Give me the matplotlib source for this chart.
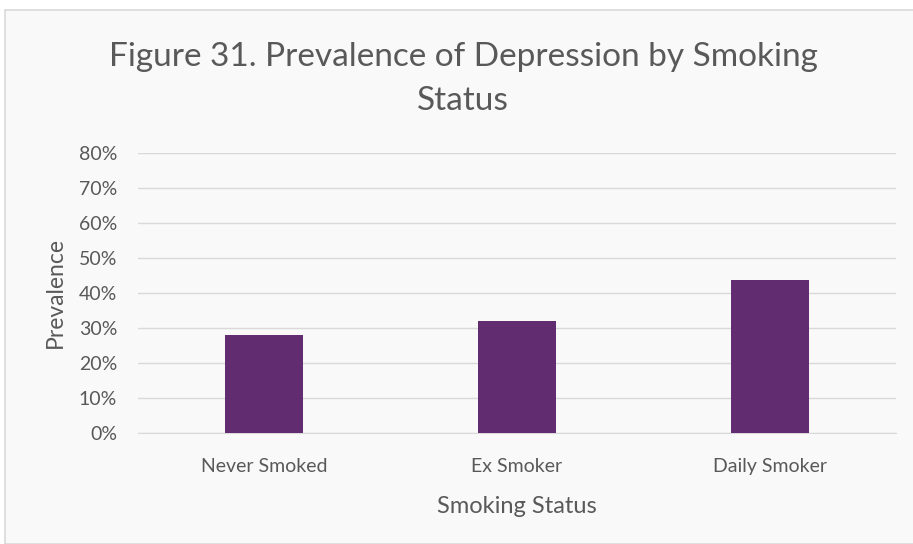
import matplotlib
matplotlib.use("Agg")
import matplotlib.pyplot as plt
from matplotlib.ticker import PercentFormatter
from matplotlib.patches import Rectangle

categories = ["Never Smoked", "Ex Smoker", "Daily Smoker"]
prevalence = [0.28, 0.321, 0.437]
yticks = [0, 0.1, 0.2, 0.3, 0.4, 0.5, 0.6, 0.7, 0.8]

plt.rcParams['font.family'] = ['Lato', 'DejaVu Sans']

W, H = 913, 544
fig = plt.figure(figsize=(W / 100, H / 100), dpi=100)
fig.patch.set_facecolor('white')

# chart area background with border
fig.add_artist(Rectangle((5 / W, 0), 1.1, 1 - 9.5 / H, transform=fig.transFigure,
                         facecolor='#f9f9f9', edgecolor='#d9d9d9', linewidth=1.2, zorder=-10))

ax = fig.add_axes([138 / W, 1 - 433 / H, (896 - 138) / W, (433 - 153) / H])
ax.set_facecolor('none')

x = range(len(categories))
ax.bar(x, prevalence, width=0.31, color='#612d70', zorder=3)
ax.set_xlim(-0.5, len(categories) - 0.5)
ax.set_ylim(0, 0.8)
ax.set_yticks(yticks)
ax.yaxis.set_major_formatter(PercentFormatter(1.0, decimals=0))
ax.set_xticks(list(x))
ax.set_xticklabels(categories)
ax.grid(axis='y', color='#d9d9d9', linewidth=1.0, zorder=0)
for s in ['top', 'right', 'left']:
    ax.spines[s].set_visible(False)
ax.spines['bottom'].set_color('#d9d9d9')
ax.tick_params(axis='both', length=0, colors='#595959', labelsize=14)
ax.tick_params(axis='y', pad=15)
ax.tick_params(axis='x', pad=18)

ax.set_xlabel("Smoking Status", fontsize=17, color='#595959', labelpad=15)
ax.set_ylabel("Prevalence", fontsize=16.5, color='#595959', labelpad=9)

fig.text(463 / W, 1 - 79 / H, "Figure 31. Prevalence of Depression by Smoking\nStatus",
         ha='center', va='center', fontsize=24, color='#595959', linespacing=1.55)

fig.savefig("out.png", dpi=100, facecolor=fig.get_facecolor())
